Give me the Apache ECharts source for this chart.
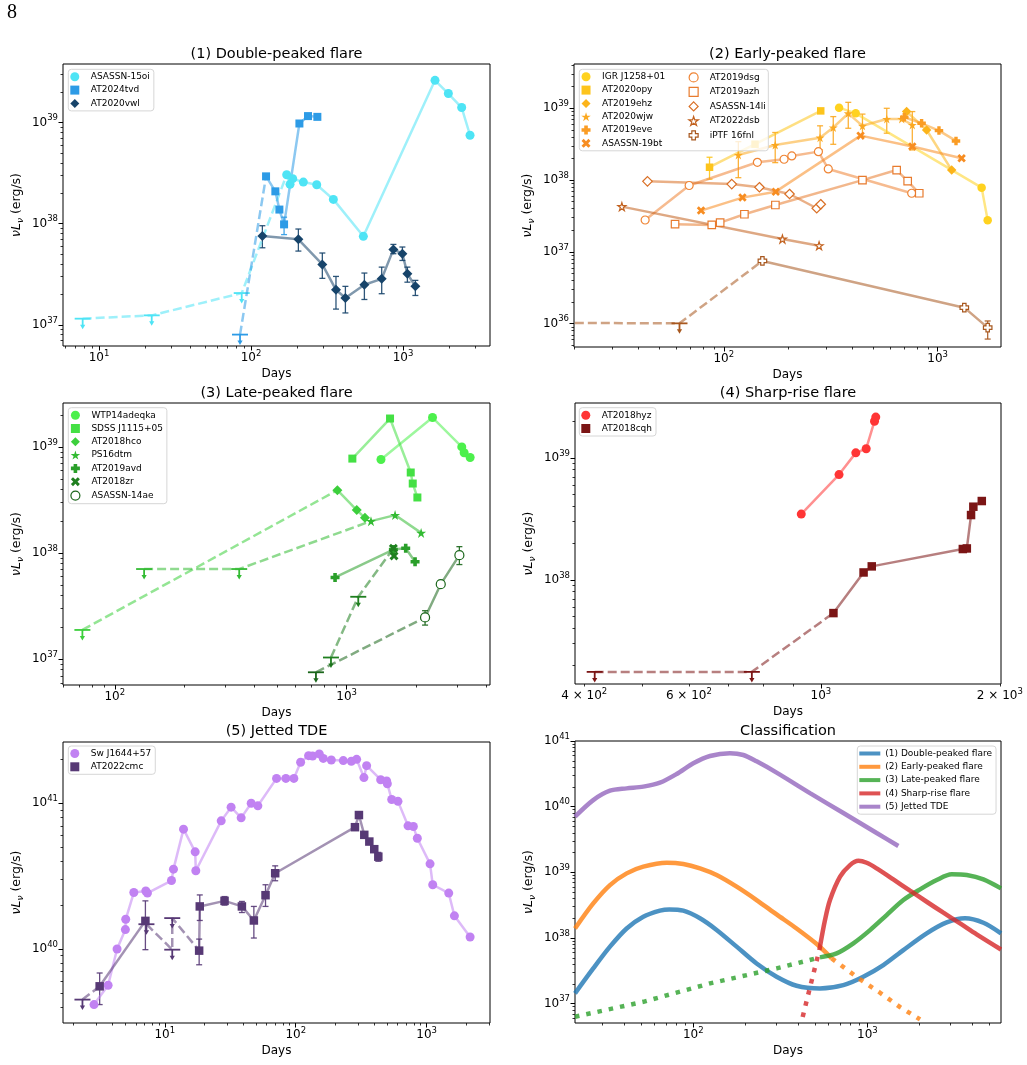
<!DOCTYPE html>
<html>
<head>
<meta charset="utf-8">
<script src="https://cdn.jsdelivr.net/npm/echarts@6/dist/echarts.min.js"></script>
<style>
  html, body { margin: 0; padding: 0; background: #fff; }
  #chart { width: 1027px; height: 1065px; }
</style>
</head>
<body>
<div id="chart"></div>
<script>
const FONT = 'DejaVu Sans';
const lg = Math.log10;

// axis ranges (days, erg/s)
const p1X = [5.79, 3733], p1Y = [6.17e36, 3.8e39];
const p2X = [19.95, 1977], p2Y = [4.73e35, 4.14e39];
const p3X = [59.8, 4150], p3Y = [5.73e36, 2.59e39];
const p4X = [386, 2009], p4Y = [1.4e37, 2.82e39];
const p5X = [1.669, 3048], p5Y = [3.11e39, 2.63e41];
const p6X = [20.9, 5861], p6Y = [5.09e36, 1e41];
const p4XLabels = [400, 600, 1000, 2000];

// marker shapes
const CIRCLE = 'circle';
const SQUARE = 'path://M0,0L1,0L1,1L0,1Z';
const DIAMOND = 'path://M0,-1L1,0L0,1L-1,0Z';
const STAR = 'path://M0,-1L0.2245,-0.309L0.9511,-0.309L0.3633,0.118L0.5878,0.809L0,0.382L-0.5878,0.809L-0.3633,0.118L-0.9511,-0.309L-0.2245,-0.309Z';
const PLUS = 'path://M-1.2,-3L1.2,-3L1.2,-1.2L3,-1.2L3,1.2L1.2,1.2L1.2,3L-1.2,3L-1.2,1.2L-3,1.2L-3,-1.2L-1.2,-1.2Z';
const XMARK = 'path://M-3,-1.6L-1.6,-3L0,-1.4L1.6,-3L3,-1.6L1.4,0L3,1.6L1.6,3L0,1.4L-1.6,3L-3,1.6L-1.4,0Z';
const BAR = 'path://M0,0L21,0L21,4L0,4Z';

// ---- (1) Double-peaked flare ----
const asassn15oiLim = [[7.8, 1.15e37], [22.2, 1.24e37], [86.8, 2.06e37]];
const asassn15oi = [[171.6, 3.05e38], [180.5, 2.45e38], [188, 2.79e38], [220.8, 2.58e38], [270.4, 2.43e38], [348, 1.74e38], [548, 7.5e37], [1623, 2.62e39], [1986, 1.94e39], [2431, 1.41e39], [2759, 7.5e38]];
const at2024tvdLim = [[84.6, 8.0e36]];
const at2024tvd = [[125.5, 2.94e38], [144.5, 2.09e38], [153.6, 1.38e38], [164.9, 9.85e37], [208, 9.8e38], [237, 1.16e39], [273, 1.14e39]];
const at2024tvdErr = [[164.9, 7.8e37, 1.16e38]];
const at2020vwl = [[118.7, 7.55e37], [204.8, 7.0e37], [294.4, 3.96e37], [362, 2.22e37], [417.5, 1.84e37], [556.7, 2.49e37], [723.7, 2.85e37], [864, 5.57e37], [990, 5.05e37], [1068, 3.2e37], [1205, 2.4e37]];
const at2020vwlErr = [[118.7, 5.78e37, 9.55e37], [204.8, 5.36e37, 8.86e37], [294.4, 2.88e37, 5.13e37], [362, 1.43e37, 3.01e37], [417.5, 1.31e37, 2.4e37], [556.7, 1.78e37, 3.25e37], [723.7, 2.03e37, 3.72e37], [864, 5.05e37, 6.24e37], [990, 4.33e37, 5.88e37], [1068, 2.64e37, 3.72e37], [1205, 1.95e37, 2.75e37]];

// ---- (2) Early-peaked flare ----
const igrJ1258 = [[346, 1.02e39], [414, 8.5e38], [1605, 7.85e37], [1713, 2.75e37]];
const at2020opy = [[85.8, 1.51e38], [140, 3.16e38], [284, 9.2e38]];
const at2020opyErr = [[85.8, 1.03e38, 2.08e38]];
const at2019ehz = [[716, 9.0e38], [888, 4.99e38], [1163, 1.38e38]];
const at2020wjw = [[117, 2.24e38], [174, 3.08e38], [282, 3.9e38], [325, 5.4e38], [382, 8.5e38], [445, 5.7e38], [578, 7.1e38], [679, 7.1e38], [761, 5.86e38]];
const at2020wjwErr = [[117, 1.08e38, 3.43e38], [174, 1.75e38, 4.6e38], [282, 2.63e38, 5.7e38], [325, 3.15e38, 7.66e38], [382, 5.27e38, 1.21e39], [445, 4.03e38, 8.3e38], [578, 4.5e38, 1.0e39], [761, 2.63e38, 9.0e38]];
const at2019eve = [[698, 7.5e38], [841, 6.18e38], [1014, 4.89e38], [1218, 3.51e38]];
const asassn19bt = [[78.3, 3.76e37], [122.3, 5.7e37], [175, 6.9e37], [436, 4.16e38], [761, 2.93e38], [1294, 2.01e38]];
const at2019dsg = [[42.9, 2.78e37], [68.9, 8.4e37], [143.6, 1.77e38], [191.4, 1.95e38], [208, 2.17e38], [277, 2.49e38], [308, 1.43e38], [756, 6.55e37]];
const at2019azh = [[59.2, 2.43e37], [87.9, 2.37e37], [96.2, 2.56e37], [124.9, 3.34e37], [174.3, 4.5e37], [445, 1.0e38], [643, 1.38e38], [724, 9.7e37], [820, 6.55e37]];
const asassn14li = [[44, 9.6e37], [109, 8.8e37], [146.8, 7.94e37], [203, 6.4e37], [272, 4.05e37], [284, 4.6e37]];
const at2022dsb = [[33.4, 4.27e37], [188, 1.51e37], [279, 1.22e37]];
const iptf16fnlLim = [[10, 1.03e36], [62.1, 1.01e36]];
const iptf16fnl = [[151.6, 7.48e36], [1332, 1.67e36], [1713, 8.8e35]];
const iptf16fnlErr = [[1713, 6.1e35, 1.09e36]];

// ---- (3) Late-peaked flare ----
const wtp14adeqka = [[1406, 7.6e38], [2345, 1.89e39], [3136, 1.0e39], [3210, 8.8e38], [3407, 7.94e38]];
const sdssJ1115 = [[1058, 7.76e38], [1538, 1.85e39], [1889, 5.74e38], [1927, 4.52e38], [2018, 3.34e38]];
const at2018hcoLim = [[72.5, 1.89e37]];
const at2018hco = [[912, 3.91e38], [1105, 2.54e38], [1199, 2.15e38]];
const ps16dtmLim = [[133.8, 7.08e37], [344, 7.08e37]];
const ps16dtm = [[1273, 2.0e38], [1617, 2.28e38], [2094, 1.55e38]];
const at2019avd = [[891, 5.9e37], [1590, 1.08e38], [1797, 1.11e38], [1972, 8.28e37]];
const at2018zrLim = [[855.6, 1.04e37], [1122, 3.88e37]];
const at2018zr = [[1590, 1.11e38], [1600, 9.4e37]];
const asassn14aeLim = [[737, 7.55e36]];
const asassn14ae = [[2178, 2.48e37], [2545, 5.1e37], [3062, 9.57e37]];
const asassn14aeErr = [[2178, 2.1e37, 2.87e37], [3062, 7.8e37, 1.15e38]];

// ---- (4) Sharp-rise flare ----
const at2018hyz = [[927, 3.46e38], [1073, 7.3e38], [1145, 1.1e39], [1192, 1.19e39], [1231, 2.0e39], [1237, 2.16e39]];
const at2018cqhLim = [[416.6, 1.76e37], [765.6, 1.76e37]];
const at2018cqh = [[1050, 5.34e37], [1180, 1.15e38], [1218, 1.29e38], [1733, 1.79e38], [1760, 1.81e38], [1789, 3.4e38], [1805, 3.98e38], [1865, 4.43e38]];

// ---- (5) Jetted TDE ----
const swJ1644 = [[2.88, 4.16e39], [3.69, 5.64e39], [4.32, 1.0e40], [5.0, 1.36e40], [5.03, 1.6e40], [5.8, 2.44e40], [7.16, 2.5e40], [7.37, 2.42e40], [11.25, 2.95e40], [11.65, 3.53e40], [13.9, 6.64e40], [17.06, 4.64e40], [17.26, 3.44e40], [26.97, 7.57e40], [32.1, 9.4e40], [38.3, 7.94e40], [45.7, 1.0e41], [51.4, 9.6e40], [71.4, 1.48e41], [84.1, 1.48e41], [96.8, 1.48e41], [109, 1.91e41], [125.4, 2.12e41], [134.6, 2.11e41], [151.4, 2.18e41], [162.4, 2.03e41], [187, 1.98e41], [230.9, 1.96e41], [266, 1.94e41], [292, 2.0e41], [332, 1.5e41], [348, 1.81e41], [445.5, 1.45e41], [495, 1.42e41], [501, 1.36e41], [541, 1.06e41], [604, 1.03e41], [721, 7.0e40], [792, 6.92e40], [849, 5.75e40], [1062, 3.84e40], [1113, 2.76e40], [1475, 2.42e40], [1630, 1.69e40], [2148, 1.21e40]];
const at2022cmcLim = [[2.35, 4.5e39], [7.24, 1.48e40], [11.4, 1.63e40], [11.4, 9.9e39]];
const at2022cmcEarly = [[3.18, 5.55e39], [7.11, 1.56e40]];
const at2022cmc = [[18.3, 9.75e39], [18.5, 1.96e40], [28.6, 2.14e40], [38.8, 1.96e40], [47.9, 1.57e40], [58.8, 2.34e40], [69.7, 3.31e40], [283.5, 6.85e40], [304, 8.3e40], [334, 6.07e40], [365, 5.46e40], [398, 4.84e40], [427.5, 4.3e40]];
const at2022cmcErr = [[3.18, 4.16e39, 6.85e39], [7.11, 9.9e39, 2.14e40], [18.3, 7.8e39, 1.17e40], [18.5, 1.57e40, 2.35e40], [28.6, 2.0e40, 2.29e40], [38.8, 1.78e40, 2.12e40], [47.9, 1.19e40, 1.96e40], [58.8, 1.96e40, 2.76e40], [69.7, 2.94e40, 3.72e40], [427.5, 4.0e40, 4.6e40]];

// ---- Classification ----
const curve1 = [[20.9, 1.44e37], [26.6, 3.45e37], [33.2, 7.4e37], [41.4, 1.4e38], [51.6, 2.11e38], [64.3, 2.61e38], [72.8, 2.73e38], [87.6, 2.61e38], [109.2, 2.0e38], [136.1, 1.33e38], [177.4, 7.4e37], [231, 4.1e37], [301, 2.58e37], [392, 1.88e37], [534, 1.71e37], [728, 1.92e37], [948, 2.58e37], [1236, 3.88e37], [1610, 6.56e37], [2193, 1.18e38], [2858, 1.73e38], [3641, 2.0e38], [4643, 1.71e38], [5861, 1.18e38]];
const curve2 = [[20.9, 1.4e38], [26.6, 3.37e38], [33.2, 6.41e38], [41.4, 9.66e38], [51.6, 1.22e39], [70.3, 1.4e39], [87.6, 1.34e39], [109.2, 1.15e39], [136.1, 9.1e38], [177.4, 6.05e38], [231, 3.79e38], [301, 2.29e38], [392, 1.4e38], [512, 8.1e37], [624, 4.9e37]];
const curve2Tail = [[624, 4.9e37], [908, 2.35e37], [1183, 1.47e37], [1542, 8.9e36], [2008, 5.77e36]];
const curve3Rise = [[20.9, 6.34e36], [51.6, 1.07e37], [124.7, 2.04e37], [301, 3.45e37], [534, 5.08e37]];
const curve3 = [[534, 5.08e37], [666, 5.84e37], [831, 8.3e37], [1036, 1.32e38], [1291, 2.24e38], [1610, 3.79e38], [2008, 5.51e38], [2503, 7.64e38], [3053, 9.33e38], [3725, 9.1e38], [4643, 7.82e38], [5861, 5.7e38]];
const curve4Rise = [[425, 6.3e36], [468, 1.77e37], [530, 6.56e37]];
const curve4 = [[530, 6.56e37], [571, 1.88e38], [610, 3.79e38], [697, 8.6e38], [795, 1.29e39], [888, 1.5e39], [991, 1.4e39], [1131, 1.15e39], [1410, 7.82e38], [1758, 5.26e38], [2193, 3.57e38], [2734, 2.43e38], [3408, 1.67e38], [4246, 1.14e38], [5861, 6.7e37]];
const curve5 = [[20.9, 7.05e39], [26.6, 1.26e40], [33.2, 1.75e40], [41.4, 1.9e40], [51.6, 2.02e40], [64.3, 2.32e40], [80.2, 3.14e40], [100, 4.57e40], [124.7, 5.91e40], [162.4, 6.5e40], [193.8, 6.12e40], [231, 4.9e40], [301, 3.3e40], [468, 1.61e40], [728, 8.0e39], [1131, 3.97e39], [1507, 2.52e39]];

// ---- layout ----
const GRIDS = [
  { left: 63, top: 64, width: 427, height: 282 },
  { left: 574, top: 64, width: 427, height: 283 },
  { left: 63, top: 403, width: 427, height: 282 },
  { left: 575, top: 403, width: 426, height: 281 },
  { left: 63, top: 742, width: 427, height: 281 },
  { left: 575, top: 741, width: 426, height: 282 }
];
const TITLES = ['(1) Double-peaked flare', '(2) Early-peaked flare', '(3) Late-peaked flare', '(4) Sharp-rise flare', '(5) Jetted TDE', 'Classification'];
const TITLE_Y = [54, 54, 393, 393, 731, 731];

const toXY = pts => pts.map(p => [lg(p[0]), lg(p[1])]);
const toErr = pts => pts.map(p => [lg(p[0]), lg(p[1]), lg(p[2])]);

function majorTicks(lo, hi) {
  const out = [];
  for (let e = Math.ceil(lo); e <= hi; e++) out.push(e);
  return out;
}
function minorTicks(lo, hi) {
  const out = [];
  for (let e = Math.floor(lo); e <= Math.ceil(hi); e++) {
    for (let k = 2; k <= 9; k++) {
      const v = e + lg(k);
      if (v >= lo && v <= hi) out.push(v);
    }
  }
  return out;
}
function powLabel(v) {
  let e = Math.floor(v + 1e-6);
  let m = Math.round(Math.pow(10, v - e));
  if (m >= 10) { m = 1; e += 1; }
  return m === 1 ? '{b|10}{sup|' + e + '}' : '{b|' + m + ' × 10}{sup|' + e + '}';
}
const RICH = {
  b: { fontSize: 12, lineHeight: 18, fontFamily: FONT, color: '#000' },
  sup: { fontSize: 8.5, lineHeight: 10, verticalAlign: 'top', fontFamily: FONT, color: '#000' }
};

const xAxes = [], yAxes = [];
function addAxes(g, xr, yr, xLabels) {
  [['x', xr, xLabels], ['y', yr, null]].forEach(([dim, r, labs]) => {
    const lo = lg(r[0]), hi = lg(r[1]);
    const isX = dim === 'x';
    const common = {
      type: 'value', gridIndex: g, min: lo, max: hi, position: isX ? 'bottom' : 'left',
      splitLine: { show: false }, axisLine: { show: false, onZero: false }, silent: true
    };
    const major = Object.assign({}, common, {
      axisTick: { customValues: majorTicks(lo, hi), length: 4.5, lineStyle: { color: '#000', width: 1 } },
      axisLabel: { customValues: labs ? labs.map(lg) : majorTicks(lo, hi), formatter: powLabel, rich: RICH, margin: isX ? 3 : 5 },
      name: isX ? 'Days' : '{it|νL}{sub|ν}{n| (erg/s)}',
      nameLocation: 'middle', nameGap: isX ? 22 : 38, nameRotate: isX ? 0 : 90,
      nameTextStyle: {
        fontSize: 12, color: '#000', fontFamily: FONT,
        rich: {
          it: { fontSize: 12.5, fontStyle: 'italic', lineHeight: 17, fontFamily: FONT, color: '#000' },
          sub: { fontSize: 9, fontStyle: 'italic', lineHeight: 10, verticalAlign: 'bottom', fontFamily: FONT, color: '#000' },
          n: { fontSize: 12.5, lineHeight: 17, fontFamily: FONT, color: '#000' }
        }
      }
    });
    const minor = Object.assign({}, common, {
      axisTick: { customValues: minorTicks(lo, hi), length: 2.5, lineStyle: { color: '#000', width: 0.8 } },
      axisLabel: { show: false }
    });
    (isX ? xAxes : yAxes).push(major, minor);
  });
}
addAxes(0, p1X, p1Y);
addAxes(1, p2X, p2Y);
addAxes(2, p3X, p3Y);
addAxes(3, p4X, p4Y, p4XLabels);
addAxes(4, p5X, p5Y);
addAxes(5, p6X, p6Y);

const series = [];

function dashSeries(g, pts, color) {
  return {
    type: 'line', xAxisIndex: 2 * g, yAxisIndex: 2 * g, data: toXY(pts), symbol: 'none', silent: true,
    lineStyle: { color, width: 2.5, opacity: 0.55, type: [9, 4] }
  };
}

function errSeries(g, pts, color) {
  return {
    type: 'custom', xAxisIndex: 2 * g, yAxisIndex: 2 * g, data: toErr(pts), silent: true,
    encode: { x: 0, y: [1, 2] },
    renderItem(params, api) {
      const a = api.coord([api.value(0), api.value(1)]);
      const b = api.coord([api.value(0), api.value(2)]);
      const st = { stroke: color, lineWidth: 1.3, opacity: 0.9 };
      return {
        type: 'group', children: [
          { type: 'line', shape: { x1: a[0], y1: a[1], x2: b[0], y2: b[1] }, style: st },
          { type: 'line', shape: { x1: a[0] - 3, y1: a[1], x2: a[0] + 3, y2: a[1] }, style: st },
          { type: 'line', shape: { x1: b[0] - 3, y1: b[1], x2: b[0] + 3, y2: b[1] }, style: st }
        ]
      };
    }
  };
}

function limSeries(g, pts, color) {
  return {
    type: 'custom', xAxisIndex: 2 * g, yAxisIndex: 2 * g, data: toXY(pts), silent: true, clip: true,
    encode: { x: 0, y: 1 },
    renderItem(params, api) {
      const p = api.coord([api.value(0), api.value(1)]);
      const st = { stroke: color, lineWidth: 1.8 };
      return {
        type: 'group', children: [
          { type: 'line', shape: { x1: p[0] - 8, y1: p[1], x2: p[0] + 8, y2: p[1] }, style: st },
          { type: 'line', shape: { x1: p[0], y1: p[1], x2: p[0], y2: p[1] + 7 }, style: st },
          { type: 'polygon', shape: { points: [[p[0] - 2.6, p[1] + 6], [p[0] + 2.6, p[1] + 6], [p[0], p[1] + 10.5]] }, style: { fill: color } }
        ]
      };
    }
  };
}

function markerStyle(o) {
  return o.open
    ? { color: '#fff', borderColor: o.color, borderWidth: 1.2 }
    : { color: o.color, borderWidth: 0 };
}

function detSeries(g, o, pts) {
  return {
    type: 'line', name: o.name, xAxisIndex: 2 * g, yAxisIndex: 2 * g, data: toXY(pts),
    symbol: o.symbol, symbolSize: o.size, showAllSymbol: true, silent: true,
    itemStyle: markerStyle(o),
    lineStyle: { color: o.color, width: 2.5, opacity: 0.55 }
  };
}

// one object = dashed connector from limits, error bars, detections, limit glyphs
function addObject(g, o) {
  if (o.lim && !o.noDash) series.push(dashSeries(g, o.lim.concat([o.det[0]]), o.color));
  if (o.err) series.push(errSeries(g, o.err, o.color));
  series.push(detSeries(g, o, o.det));
  if (o.lim) series.push(limSeries(g, o.lim, o.color));
  return { name: o.name, icon: o.symbol, itemStyle: markerStyle(o) };
}

const leg1 = [
  addObject(0, { name: 'ASASSN-15oi', color: '#4ee4f5', symbol: CIRCLE, size: 9, det: asassn15oi, lim: asassn15oiLim }),
  addObject(0, { name: 'AT2024tvd', color: '#2d9be6', symbol: SQUARE, size: 8, det: at2024tvd, lim: at2024tvdLim, err: at2024tvdErr }),
  addObject(0, { name: 'AT2020vwl', color: '#17446a', symbol: DIAMOND, size: 10, det: at2020vwl, err: at2020vwlErr })
];

const leg2a = [
  addObject(1, { name: 'IGR J1258+01', color: '#ffd21f', symbol: CIRCLE, size: 8.5, det: igrJ1258 }),
  addObject(1, { name: 'AT2020opy', color: '#fdc41c', symbol: SQUARE, size: 7.5, det: at2020opy, err: at2020opyErr }),
  addObject(1, { name: 'AT2019ehz', color: '#fcb41a', symbol: DIAMOND, size: 9.5, det: at2019ehz }),
  addObject(1, { name: 'AT2020wjw', color: '#fba922', symbol: STAR, size: 9, det: at2020wjw, err: at2020wjwErr }),
  addObject(1, { name: 'AT2019eve', color: '#fa9c24', symbol: PLUS, size: 8.5, det: at2019eve }),
  addObject(1, { name: 'ASASSN-19bt', color: '#f78d22', symbol: XMARK, size: 8.5, det: asassn19bt })
];
const leg2b = [
  addObject(1, { name: 'AT2019dsg', color: '#ef8434', symbol: CIRCLE, size: 8, open: true, det: at2019dsg }),
  addObject(1, { name: 'AT2019azh', color: '#e87b2e', symbol: SQUARE, size: 7.5, open: true, det: at2019azh }),
  addObject(1, { name: 'ASASSN-14li', color: '#d96f25', symbol: DIAMOND, size: 9.5, open: true, det: asassn14li }),
  addObject(1, { name: 'AT2022dsb', color: '#c2611e', symbol: STAR, size: 8, open: true, det: at2022dsb }),
  addObject(1, { name: 'iPTF 16fnl', color: '#a8581f', symbol: PLUS, size: 8.5, open: true, det: iptf16fnl, lim: iptf16fnlLim, err: iptf16fnlErr })
];

const leg3 = [
  addObject(2, { name: 'WTP14adeqka', color: '#4cf04c', symbol: CIRCLE, size: 9, det: wtp14adeqka }),
  addObject(2, { name: 'SDSS J1115+05', color: '#44e044', symbol: SQUARE, size: 8, det: sdssJ1115 }),
  addObject(2, { name: 'AT2018hco', color: '#3ccf3c', symbol: DIAMOND, size: 10, det: at2018hco, lim: at2018hcoLim }),
  addObject(2, { name: 'PS16dtm', color: '#33bb33', symbol: STAR, size: 10, det: ps16dtm, lim: ps16dtmLim }),
  addObject(2, { name: 'AT2019avd', color: '#2a9f2a', symbol: PLUS, size: 9, det: at2019avd }),
  addObject(2, { name: 'AT2018zr', color: '#1f7f1f', symbol: XMARK, size: 9, det: at2018zr, lim: at2018zrLim }),
  addObject(2, { name: 'ASASSN-14ae', color: '#1a661a', symbol: CIRCLE, size: 9, open: true, det: asassn14ae, lim: asassn14aeLim, err: asassn14aeErr })
];

const leg4 = [
  addObject(3, { name: 'AT2018hyz', color: '#ff3535', symbol: CIRCLE, size: 9, det: at2018hyz }),
  addObject(3, { name: 'AT2018cqh', color: '#7b1515', symbol: SQUARE, size: 8.5, det: at2018cqh, lim: at2018cqhLim })
];

// jetted: limits connect in two dashed runs
const cmcColor = '#573975';
series.push(dashSeries(4, [at2022cmcLim[0], at2022cmcEarly[0]], cmcColor));
series.push(dashSeries(4, [at2022cmcLim[1], at2022cmcLim[3], at2022cmcLim[2], at2022cmc[0]], cmcColor));
const leg5 = [
  addObject(4, { name: 'Sw J1644+57', color: '#c182f2', symbol: CIRCLE, size: 9, det: swJ1644 }),
  addObject(4, { name: 'AT2022cmc', color: cmcColor, symbol: SQUARE, size: 8.5, det: at2022cmcEarly, err: at2022cmcErr })
];
addObject(4, { name: 'AT2022cmc', color: cmcColor, symbol: SQUARE, size: 8.5, det: at2022cmc, lim: at2022cmcLim, noDash: true });

// classification curves
const TAB = ['#1f77b4', '#ff7f0e', '#2ca02c', '#d62728', '#9467bd'];
const CLASS_NAMES = ['(1) Double-peaked flare', '(2) Early-peaked flare', '(3) Late-peaked flare', '(4) Sharp-rise flare', '(5) Jetted TDE'];
function curveSeries(pts, i, dotted) {
  return {
    type: 'line', name: dotted ? undefined : CLASS_NAMES[i], xAxisIndex: 10, yAxisIndex: 10,
    data: toXY(pts), symbol: 'none', smooth: dotted ? false : 0.3, silent: true,
    itemStyle: { color: TAB[i] },
    lineStyle: { color: TAB[i], width: 4.5, opacity: 0.8, type: dotted ? [4.5, 7] : 'solid', cap: 'butt' }
  };
}
series.push(curveSeries(curve1, 0));
series.push(curveSeries(curve2, 1), curveSeries(curve2Tail, 1, true));
series.push(curveSeries(curve3Rise, 2, true), curveSeries(curve3, 2));
series.push(curveSeries(curve4Rise, 3, true), curveSeries(curve4, 3));
series.push(curveSeries(curve5, 4));
const leg6 = CLASS_NAMES.map((n, i) => ({ name: n, icon: BAR, itemStyle: { color: TAB[i], opacity: 0.8 } }));

function legend(left, top, data, extra) {
  return Object.assign({
    orient: 'vertical', left, top, data, selectedMode: false,
    itemWidth: 22, itemHeight: 9, itemGap: 4.3, padding: [3, 4, 3, 2],
    textStyle: { fontSize: 9, fontFamily: FONT, color: '#000' },
    backgroundColor: 'rgba(255,255,255,0.8)', borderColor: '#d6d6d6', borderWidth: 1, borderRadius: 3
  }, extra || {});
}

const graphics = TITLES.map((t, i) => ({
  type: 'text', x: GRIDS[i].left + GRIDS[i].width / 2, y: TITLE_Y[i], silent: true,
  style: { text: t, fontSize: 14.5, fontFamily: FONT, fill: '#000', align: 'center', verticalAlign: 'middle' }
}));
graphics.push({
  type: 'text', x: 12, y: 13, silent: true,
  style: { text: '8', fontSize: 20, fontFamily: 'Liberation Serif', fill: '#000', align: 'center', verticalAlign: 'middle' }
});

const chart = echarts.init(document.getElementById('chart'), null, { renderer: 'canvas' });
chart.setOption({
  animation: false,
  backgroundColor: '#fff',
  grid: GRIDS.map(g => Object.assign({ show: true, borderColor: '#000', borderWidth: 1, backgroundColor: 'transparent' }, g)),
  xAxis: xAxes,
  yAxis: yAxes,
  legend: [
    legend(68.3, 69.3, leg1),
    legend(579.3, 69.3, leg2a, { padding: [3, 103, 3, 2] }),
    legend(688.3, 72.3, leg2b, { padding: 0, backgroundColor: 'transparent', borderWidth: 0 }),
    legend(68.3, 407.7, leg3),
    legend(579.3, 407.7, leg4),
    legend(68.3, 746, leg5),
    legend(857.3, 746, leg6, { itemWidth: 21 })
  ],
  graphic: graphics,
  series
});
</script>
</body>
</html>
